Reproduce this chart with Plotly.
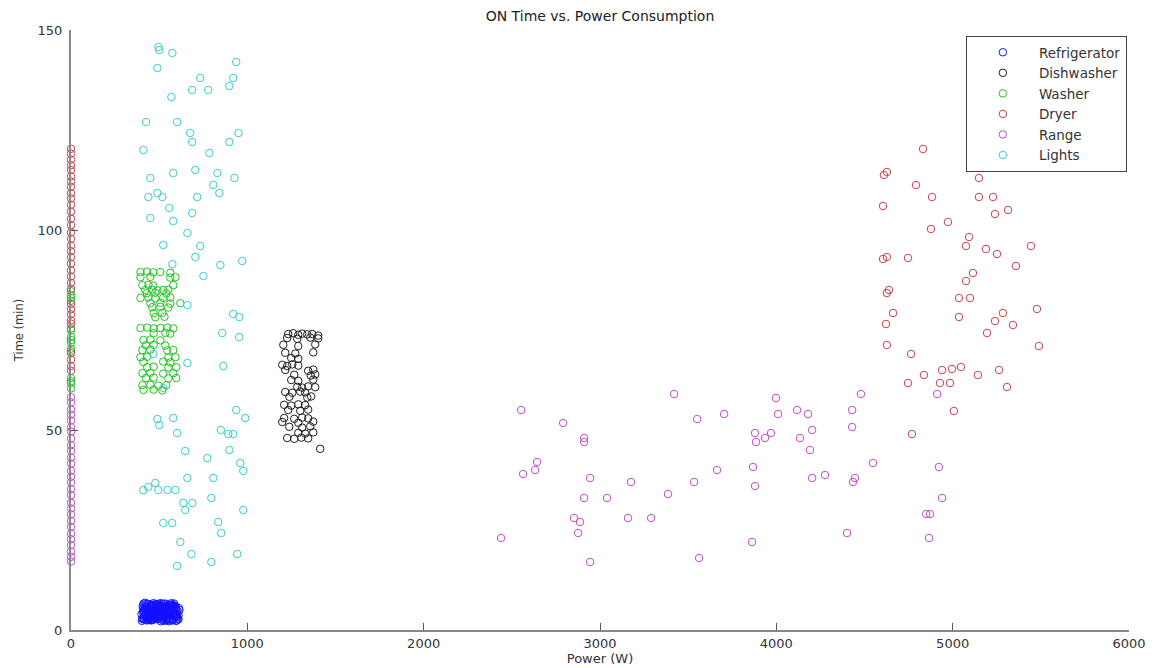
import plotly.graph_objects as go

# ---------------- data (Power in W, Time in min) ----------------
fridge_power = [
    412, 455, 498, 531, 577, 423, 470, 512, 560, 596,
    408, 447, 489, 538, 583, 431, 476, 520, 566, 593,
    415, 462, 505, 547, 588, 440, 483, 527, 571, 599,
    418, 459, 501, 544, 579, 426, 468, 515, 556, 590,
    410, 452, 494, 535, 574, 436, 480, 524, 563, 597,
    421, 465, 509, 550, 586, 444, 487, 529, 569, 602,
    414, 457, 496, 541, 581, 429, 473, 517, 558, 594,
    406, 449, 491, 533, 576, 438, 485, 526, 568, 598,
    400, 435, 470, 505, 540, 575, 610, 420, 455, 490,
    525, 560, 595, 405, 445, 480, 515, 550, 585, 615,
    425, 460, 500, 535, 570, 605, 410, 450, 487, 522,
    557, 592, 430, 467, 503, 545, 580, 612, 442, 518,
    402, 428, 452, 478, 503, 528, 553, 578, 603, 417,
    442, 468, 493, 519, 544, 569, 594, 407, 433, 458,
    484, 509, 534, 560, 585, 610, 422, 447, 473, 498,
    524, 549, 574, 599, 413, 439, 464, 489, 514, 539,
]
fridge_time = [
    6.6, 2.4, 5.1, 3.3, 6.2, 4.0, 2.9, 6.7, 4.6, 2.3,
    5.5, 3.6, 2.7, 5.9, 4.2, 3.1, 6.4, 2.5, 5.3, 3.8,
    2.6, 4.9, 6.1, 2.8, 5.7, 6.5, 4.4, 3.0, 5.0, 2.4,
    3.5, 6.3, 4.1, 5.6, 2.9, 5.2, 3.4, 4.7, 2.2, 6.0,
    4.3, 5.8, 3.2, 6.6, 4.8, 2.7, 5.4, 3.9, 6.2, 3.3,
    6.8, 2.6, 4.5, 3.7, 5.9, 4.6, 6.4, 2.3, 5.1, 4.0,
    3.0, 4.2, 5.5, 2.5, 3.6, 5.8, 2.8, 6.1, 4.9, 5.2,
    2.9, 6.0, 3.9, 5.3, 2.4, 4.4, 3.1, 5.6, 6.3, 3.4,
    3.9, 5.0, 3.5, 4.3, 2.6, 4.9, 3.7, 5.3, 6.0, 4.0,
    6.5, 2.7, 5.6, 2.8, 3.2, 5.8, 4.4, 3.1, 6.6, 5.0,
    6.1, 2.5, 3.3, 4.5, 6.7, 2.9, 4.7, 4.6, 5.9, 3.6,
    6.2, 4.3, 2.4, 6.0, 2.8, 5.0, 3.5, 5.5, 3.8, 5.3,
    2.3, 6.5, 4.1, 2.9, 5.7, 3.4, 6.3, 2.6, 4.8, 5.4,
    2.8, 6.7, 3.8, 4.9, 2.5, 5.2, 3.9, 6.1, 4.5, 3.0,
    6.4, 2.2, 5.5, 3.6, 4.2, 2.7, 3.1, 5.2, 4.2, 6.6,
    2.6, 4.4, 5.9, 3.3, 4.9, 2.5, 6.2, 3.5, 5.7, 4.0,
]

dish_power = [
    1232, 1260, 1289, 1311, 1340, 1368, 1402, 1226, 1283, 1357, 1402,
    1204, 1289, 1385, 1215, 1272, 1374, 1249, 1289,
    1198, 1226, 1255, 1289, 1215, 1345, 1374, 1266, 1360, 1385,
    1249, 1289, 1374, 1283, 1311, 1345, 1385, 1215, 1255, 1300, 1328,
    1238, 1340, 1362, 1209, 1249, 1289, 1328, 1232, 1300, 1345,
    1209, 1266, 1311, 1345, 1198, 1289, 1374, 1238, 1311, 1357,
    1289, 1328, 1374, 1226, 1266, 1306, 1345, 1413,
]
dish_time = [
    74.0, 74.2, 73.8, 74.1, 73.9, 74.0, 73.6, 73.0, 72.8, 73.1, 72.9,
    71.3, 71.0, 71.4, 69.3, 69.1, 69.4, 68.0, 67.8,
    66.3, 66.0, 66.4, 66.1, 65.0, 64.8, 65.1, 63.8, 63.6, 63.9,
    62.5, 62.3, 62.6, 60.8, 60.6, 60.9, 60.7, 59.5, 59.3, 59.6, 59.4,
    58.3, 58.1, 58.4, 56.3, 56.1, 56.4, 56.2, 55.0, 54.8, 55.1,
    53.0, 52.8, 53.1, 52.9, 52.0, 51.8, 52.1, 50.8, 50.6, 50.9,
    49.3, 49.1, 49.4, 48.0, 47.8, 48.1, 47.9, 45.3,
]

washer_power = [
    394, 432, 466, 506, 563, 394, 450, 563, 592,
    405, 439, 466, 580, 421, 461, 490, 523, 552,
    430, 478, 540, 394, 439, 478, 523, 563,
    450, 507, 563, 620, 461, 506, 552, 469, 518, 478, 530,
    394, 432, 469, 507, 546, 580, 469, 535, 563,
    411, 450, 507, 425, 469, 535, 405, 450, 546, 580,
    394, 432, 552, 592, 411, 523, 563, 432, 469, 552, 597,
    405, 450, 523, 580, 425, 469, 552, 597, 405, 450, 495, 540,
    411, 469, 518,
    0, 0, 0, 0, 0, 0, 0, 0, 0, 0, 0, 0, 0, 0, 0,
]
washer_time = [
    89.5, 89.6, 89.4, 89.5, 89.3, 88.2, 88.3, 88.1, 88.2,
    86.2, 86.3, 86.1, 86.2, 85.0, 85.1, 84.9, 85.0, 85.1,
    84.2, 84.3, 84.1, 83.0, 83.1, 82.9, 83.0, 83.1,
    81.7, 81.8, 81.6, 81.7, 80.7, 80.8, 80.6, 79.2, 79.3, 78.2, 78.3,
    75.5, 75.6, 75.4, 75.5, 75.6, 75.4, 74.2, 74.3, 74.1,
    72.5, 72.6, 72.4, 71.2, 71.3, 71.1, 70.0, 70.1, 69.9, 70.0,
    68.2, 68.3, 68.1, 68.2, 67.0, 67.1, 66.9, 65.7, 65.8, 65.6, 65.7,
    64.2, 64.3, 64.1, 64.2, 63.0, 63.1, 62.9, 63.0, 61.2, 61.3, 61.1, 61.2,
    60.0, 60.1, 59.9,
    60.4, 61.7, 63.0, 70.3, 71.8, 73.3, 74.9, 82.3, 83.6, 84.7, 62.2, 72.5, 83.0, 69.7, 75.4,
]

dryer_power = [
    4832, 4610, 4627, 5149, 4792, 4883, 5149, 5229, 5240, 5314,
    4605, 4973, 4877, 5093, 5076, 5189, 5252, 5444, 4605, 4627,
    4747, 5359, 5115, 5076, 4627, 4639, 5036, 5098, 4662, 5478,
    4622, 5036, 5285, 5240, 5342, 5195, 5489, 4627, 4764, 4940,
    4996, 5047, 4837, 5143, 5263, 4747, 4928, 4985, 5308, 4769,
    5007,
    0, 0, 0, 0, 0, 0, 0, 0, 0, 0, 0,
    0, 0, 0, 0, 0, 0, 0, 0, 0, 0, 0,
    0, 0, 0, 0, 0, 0, 0, 0, 0, 0, 0,
]
dryer_time = [
    120.25, 113.75, 114.5, 113.0, 111.25, 108.25, 108.25, 108.25, 104.0, 105.0,
    106.0, 102.0, 100.25, 98.25, 96.0, 95.25, 94.0, 96.0, 92.75, 93.25,
    93.0, 91.0, 89.25, 87.25, 84.25, 85.0, 83.0, 83.0, 79.25, 80.25,
    76.5, 78.25, 79.25, 77.25, 76.25, 74.25, 71.0, 71.25, 69.0, 65.0,
    65.25, 65.75, 63.75, 63.75, 65.0, 61.75, 61.75, 61.75, 60.75, 49.0,
    54.75,
    120.3, 119.1, 117.6, 116.2, 115.0, 113.4, 112.1, 110.8, 109.2, 107.9, 106.3,
    104.6, 102.8, 101.2, 99.4, 97.8, 96.1, 94.7, 93.2, 91.6, 89.9, 88.4,
    86.8, 85.3, 81.5, 80.2, 78.9, 77.4, 76.6, 69.2, 67.6, 66.0, 64.8,
]

range_power = [
    3420, 3998, 4480, 2553, 2791, 3551, 3704, 4010, 4118, 4180,
    4430, 4430, 4912, 2910, 2910, 3879, 3970, 3936, 3885, 4134,
    4203, 4191, 2643, 2632, 2564, 2944, 3176, 3534, 3664, 3868,
    3879, 4203, 4276, 4435, 4446, 4548, 4922, 3386, 2910, 3040,
    4940, 2853, 2887, 3159, 3290, 2876, 4871, 4850, 2439, 3862,
    4401, 4866, 2944, 3562,
    0, 0, 0, 0, 0, 0, 0, 0, 0, 0, 0, 0, 0, 0,
    0, 0, 0, 0, 0, 0, 0, 0, 0, 0, 0, 0, 0, 0,
]
range_time = [
    59.0, 58.0, 59.0, 55.0, 51.75, 52.75, 54.0, 54.0, 55.0, 54.0,
    55.0, 50.75, 59.0, 48.0, 47.0, 49.25, 49.25, 48.0, 47.0, 48.0,
    50.0, 45.0, 42.0, 40.0, 39.0, 38.0, 37.0, 37.0, 40.0, 40.75,
    36.0, 38.0, 38.75, 37.0, 38.0, 41.75, 40.75, 34.0, 33.0, 33.0,
    33.0, 28.0, 27.0, 28.0, 28.0, 24.25, 29.0, 29.0, 23.0, 22.0,
    24.25, 23.0, 17.0, 18.0,
    58.2, 56.9, 55.1, 53.8, 52.4, 50.7, 49.6, 47.9, 46.2, 44.8, 43.1, 41.6, 39.8, 38.3,
    36.9, 35.2, 33.7, 31.8, 30.4, 28.9, 27.3, 25.8, 24.1, 22.7, 21.2, 19.6, 18.3, 17.1,
]

lights_power = [
    496, 501, 575, 937, 490, 733, 920, 898, 687, 778,
    569, 426, 602, 676, 687, 950, 898, 411, 785, 450,
    580, 705, 830, 927, 807, 841, 439, 490, 518, 716,
    557, 687, 450, 580, 660, 523, 733, 705, 575, 847,
    971, 751, 660, 920, 954, 858, 954, 660, 864, 523,
    467, 490, 501, 580, 937, 988, 850, 892, 920, 602,
    648, 773, 898, 960, 977, 660, 807, 410, 438, 478,
    495, 547, 592, 796, 637, 688, 648, 977, 523, 574,
    835, 852, 620, 683, 943, 796, 602,
]
lights_time = [
    145.75, 145.0, 144.25, 142.0, 140.5, 138.0, 138.0, 136.0, 135.0, 135.0,
    133.25, 127.0, 127.0, 124.25, 122.0, 124.25, 122.0, 120.0, 119.25, 113.0,
    114.25, 115.0, 114.25, 113.0, 111.25, 109.25, 108.25, 109.25, 108.25, 108.25,
    105.5, 104.25, 103.0, 102.25, 99.25, 96.25, 96.0, 93.25, 91.5, 91.25,
    92.25, 88.5, 81.25, 79.0, 78.25, 74.25, 73.25, 66.75, 66.0, 60.5,
    69.0, 52.75, 51.25, 53.0, 55.0, 53.0, 50.0, 49.0, 49.0, 49.25,
    44.75, 43.0, 45.0, 41.75, 39.75, 38.0, 38.0, 35.0, 35.75, 36.75,
    35.0, 35.0, 35.0, 33.0, 31.75, 31.75, 30.0, 30.0, 26.75, 26.75,
    27.0, 24.25, 22.0, 19.0, 19.0, 17.0, 16.0,
]

series = [
    ("Refrigerator", fridge_power, fridge_time, "#1010ff"),
    ("Dishwasher", dish_power, dish_time, "#1e1e1e"),
    ("Washer", washer_power, washer_time, "#22c422"),
    ("Dryer", dryer_power, dryer_time, "#c4444c"),
    ("Range", range_power, range_time, "#c24cc8"),
    ("Lights", lights_power, lights_time, "#3ccccc"),
]

FONT = "DejaVu Sans, Liberation Sans, Arial, sans-serif"

fig = go.Figure()
for name, xs, ys, col in series:
    n = min(len(xs), len(ys))
    fig.add_trace(go.Scatter(
        x=xs[:n], y=ys[:n], mode="markers", name=name, cliponaxis=False,
        marker=dict(symbol="circle-open", size=7.5, color=col,
                    line=dict(width=1, color=col)),
    ))

fig.update_layout(
    width=1148, height=660,
    margin=dict(l=63, r=27, t=22, b=38, autoexpand=False),
    paper_bgcolor="white", plot_bgcolor="white",
    font=dict(family=FONT, size=13, color="#333"),
    title=dict(text="ON Time vs. Power Consumption", x=0.5, xanchor="center",
               xref="paper", y=0.988, yanchor="middle",
               font=dict(family=FONT, size=14, color="#222")),
    legend=dict(x=0.998, xanchor="right", y=0.99, yanchor="top",
                bgcolor="white", bordercolor="#444", borderwidth=1,
                font=dict(family=FONT, size=13.5, color="#333"),
                itemwidth=62, tracegroupgap=0),
    showlegend=True,
)
fig.update_xaxes(
    range=[0, 6000], tickvals=[0, 1000, 2000, 3000, 4000, 5000, 6000],
    ticks="inside", ticklen=7, tickcolor="#555", tickwidth=1,
    showline=True, linecolor="#888", linewidth=2, mirror=False,
    showgrid=False, zeroline=False, automargin=False,
    title=dict(text="Power (W)", standoff=3, font=dict(family=FONT, size=13)),
    tickfont=dict(family=FONT, size=13, color="#333"),
)
fig.update_yaxes(
    range=[0, 150], tickvals=[0, 50, 100, 150],
    ticks="inside", ticklen=7, tickcolor="#555", tickwidth=1,
    showline=True, linecolor="#888", linewidth=2, mirror=False,
    showgrid=False, zeroline=False, automargin=False,
    ticklabelstandoff=4,
    title=dict(text="Time (min)", standoff=12, font=dict(family=FONT, size=11.5)),
    tickfont=dict(family=FONT, size=13, color="#333"),
)

fig.write_html("out.html")
